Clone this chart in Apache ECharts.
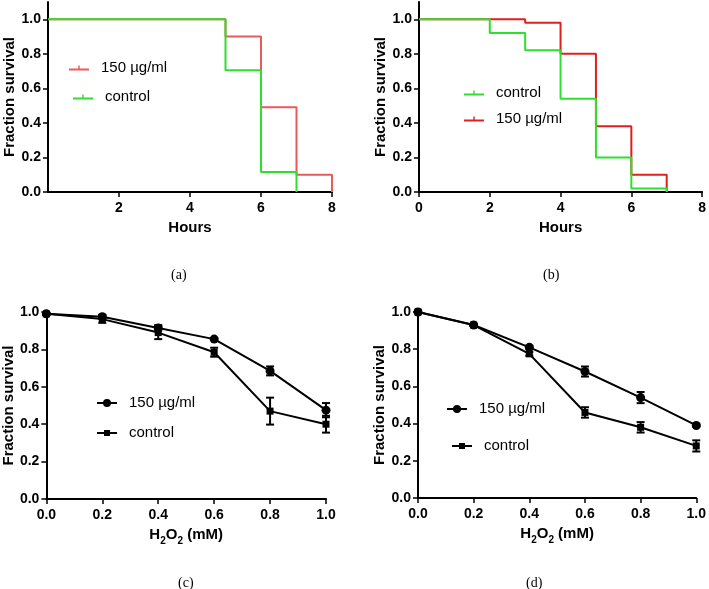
<!DOCTYPE html>
<html>
<head>
<meta charset="utf-8">
<script src="https://cdn.jsdelivr.net/npm/echarts@6/dist/echarts.min.js"></script>
<style>html,body{margin:0;padding:0;background:#fff}#c{width:709px;height:589px}</style>
</head>
<body>
<div id="c"></div>
<script>
// ---- data ----
const hoursA150 = [0, 5, 6, 7, 8];
const survA150  = [1.0, 0.90, 0.49, 0.10, 0.0];
const hoursACtl = [0, 5, 6, 7];
const survACtl  = [1.0, 0.705, 0.116, 0.0];

const hoursBCtl = [0, 2, 3, 4, 5, 6, 7];
const survBCtl  = [1.0, 0.92, 0.82, 0.54, 0.20, 0.02, 0.0];
const hoursB150 = [0, 3, 4, 5, 6, 7];
const survB150  = [1.0, 0.98, 0.80, 0.38, 0.10, 0.0];

const dose = [0, 0.2, 0.4, 0.6, 0.8, 1.0];
const c150    = [0.99, 0.975, 0.915, 0.855, 0.685, 0.475];
const c150Err = [0.005, 0.01, 0.015, 0.005, 0.024, 0.038];
const cCtl    = [0.99, 0.962, 0.89, 0.785, 0.47, 0.40];
const cCtlErr = [0.005, 0.02, 0.035, 0.024, 0.072, 0.045];

const d150    = [1.0, 0.93, 0.81, 0.68, 0.54, 0.39];
const d150Err = [0, 0.005, 0.008, 0.027, 0.03, 0.006];
const dCtl    = [1.0, 0.93, 0.775, 0.46, 0.38, 0.28];
const dCtlErr = [0, 0.005, 0.01, 0.028, 0.028, 0.03];

const yTicks = [0, 0.2, 0.4, 0.6, 0.8, 1.0];
const legendNames = {a150: '150 µg/ml', aCtl: 'control', b150: '150 µg/ml', bCtl: 'control',
                     c150: '150 µg/ml', cCtl: 'control', d150: '150 µg/ml', dCtl: 'control'};
const captions = ['(a)', '(b)', '(c)', '(d)'];

// ---- helpers ----
const zip = (xs, ys) => xs.map((x, i) => [x, ys[i]]);
const zip3 = (xs, ys, es) => xs.map((x, i) => [x, ys[i], es[i]]);
const FONT = '"Liberation Sans", Arial, sans-serif';
const RED_A = '#ea5a58', RED_B = '#e0201e', GREEN = '#2ee02e';

function errRender(params, api) {
  const x = api.value(0), y = api.value(1), e = api.value(2);
  if (!e) return null;
  const t = api.coord([x, y + e]), b = api.coord([x, y - e]);
  const hw = 4, st = {stroke: '#000', lineWidth: 2};
  return {type: 'group', children: [
    {type: 'line', shape: {x1: t[0], y1: t[1], x2: b[0], y2: b[1]}, style: st},
    {type: 'line', shape: {x1: t[0] - hw, y1: t[1], x2: t[0] + hw, y2: t[1]}, style: st},
    {type: 'line', shape: {x1: b[0] - hw, y1: b[1], x2: b[0] + hw, y2: b[1]}, style: st}
  ]};
}

function yAxis(gi, max) {
  return {
    type: 'value', gridIndex: gi, min: 0, max: max, interval: 0.2,
    name: 'Fraction survival', nameLocation: 'middle', nameGap: 30,
    nameTextStyle: {fontFamily: FONT, fontWeight: 'bold', fontSize: 15, color: '#000'},
    axisLine: {show: true, lineStyle: {color: '#000', width: 2}},
    axisTick: {show: true, length: 5, lineStyle: {color: '#000', width: 1.5}, customValues: yTicks},
    axisLabel: {fontFamily: FONT, fontWeight: 'bold', fontSize: 14, color: '#000', margin: 7,
                customValues: yTicks, formatter: v => v.toFixed(1)},
    splitLine: {show: false}
  };
}
function xAxisHours(gi, showMin) {
  return {
    type: 'value', gridIndex: gi, min: 0, max: 8, interval: 2,
    name: 'Hours', nameLocation: 'middle', nameGap: 28,
    nameTextStyle: {fontFamily: FONT, fontWeight: 'bold', fontSize: 15, color: '#000'},
    axisLine: {show: true, onZero: false, lineStyle: {color: '#000', width: 2}},
    axisTick: {show: true, length: 5, lineStyle: {color: '#000', width: 1.5}},
    axisLabel: {fontFamily: FONT, fontWeight: 'bold', fontSize: 14, color: '#000', margin: 9, showMinLabel: showMin},
    splitLine: {show: false}
  };
}
function xAxisDose(gi) {
  return {
    type: 'value', gridIndex: gi, min: 0, max: 1, interval: 0.2,
    name: '{b|H}{s|2}{b|O}{s|2}{b| (mM)}', nameLocation: 'middle', nameGap: 28,
    nameTextStyle: {fontFamily: FONT, fontWeight: 'bold', fontSize: 15, color: '#000',
      rich: {b: {fontFamily: FONT, fontWeight: 'bold', fontSize: 15, color: '#000', verticalAlign: 'top'},
             s: {fontFamily: FONT, fontWeight: 'bold', fontSize: 10, color: '#000', verticalAlign: 'top', padding: [9, 0, 0, 0]}}},
    axisLine: {show: true, onZero: false, lineStyle: {color: '#000', width: 2}},
    axisTick: {show: true, length: 5, lineStyle: {color: '#000', width: 1.5}},
    axisLabel: {fontFamily: FONT, fontWeight: 'bold', fontSize: 14, color: '#000', margin: 9,
                formatter: v => v.toFixed(1)},
    splitLine: {show: false}
  };
}
function stepSeries(id, gi, xs, ys, color, z) {
  return {id: id, name: id, type: 'line', xAxisIndex: gi, yAxisIndex: gi, step: 'end',
          data: zip(xs, ys), showSymbol: false, symbol: 'none', z: z,
          lineStyle: {color: color, width: 2}, itemStyle: {color: color}};
}
function markerSeries(id, gi, xs, ys, sym, size) {
  return {id: id, name: id, type: 'line', xAxisIndex: gi, yAxisIndex: gi, data: zip(xs, ys),
          symbol: sym, symbolSize: size, showSymbol: true, z: 3,
          lineStyle: {color: '#000', width: 2}, itemStyle: {color: '#000'}};
}
function errSeries(gi, xs, ys, es) {
  return {type: 'custom', xAxisIndex: gi, yAxisIndex: gi, data: zip3(xs, ys, es),
          encode: {x: 0, y: 1}, renderItem: errRender, z: 2, silent: true};
}
const tickIcon = 'path://M0,3H20V5H0Z M9.3,0H10.7V3H9.3Z';
const circIcon = 'path://M0,4H20V6H0Z M14,5A4,4 0 1 1 6,5A4,4 0 1 1 14,5Z';
const sqIcon = 'path://M0,4H20V6H0Z M7,2H13V8H7Z';
function leg(name, left, cy, icon, color, ih) {
  return {data: [{name: name, icon: icon, itemStyle: {color: color}}], left: left, top: cy - 8,
          orient: 'horizontal', itemWidth: 20, itemHeight: ih, itemGap: 0, padding: 0, selectedMode: false,
          formatter: n => legendNames[n],
          textStyle: {fontFamily: FONT, fontSize: 15, color: '#000', lineHeight: 16, padding: [0, 0, 0, 7]}};
}

const option = {
  animation: false,
  backgroundColor: '#fff',
  grid: [
    {left: 48, top: 2, width: 284, height: 190},
    {left: 419, top: 2, width: 285, height: 190},
    {left: 46, top: 312, width: 280, height: 187},
    {left: 418, top: 312, width: 280, height: 186}
  ],
  xAxis: [xAxisHours(0, false), xAxisHours(1, true), xAxisDose(2), xAxisDose(3)],
  yAxis: [yAxis(0, 1.1), yAxis(1, 1.1), yAxis(2, 1.0), yAxis(3, 1.0)],
  legend: [
    leg('a150', 69, 68, tickIcon, RED_A, 5),
    leg('aCtl', 73, 97, tickIcon, GREEN, 5),
    leg('bCtl', 464, 93, tickIcon, GREEN, 5),
    leg('b150', 464, 119, tickIcon, RED_B, 5),
    leg('c150', 97, 403, circIcon, '#000', 10),
    leg('cCtl', 97, 433, sqIcon, '#000', 10),
    leg('d150', 447, 409, circIcon, '#000', 10),
    leg('dCtl', 452, 446, sqIcon, '#000', 10)
  ],
  graphic: captions.map((t, i) => ({
    type: 'text', left: [171, 543, 178, 526][i], top: [268, 268, 576, 576][i],
    style: {text: t, font: '14px "Liberation Serif", "Times New Roman", serif', fill: '#000'}
  })),
  series: [
    stepSeries('a150', 0, hoursA150, survA150, RED_A, 2),
    stepSeries('aCtl', 0, hoursACtl, survACtl, GREEN, 3),
    stepSeries('b150', 1, hoursB150, survB150, RED_B, 2),
    stepSeries('bCtl', 1, hoursBCtl, survBCtl, GREEN, 3),
    errSeries(2, dose, c150, c150Err),
    errSeries(2, dose, cCtl, cCtlErr),
    markerSeries('c150', 2, dose, c150, 'circle', 9),
    markerSeries('cCtl', 2, dose, cCtl, 'rect', 7),
    errSeries(3, dose, d150, d150Err),
    errSeries(3, dose, dCtl, dCtlErr),
    markerSeries('d150', 3, dose, d150, 'circle', 9),
    markerSeries('dCtl', 3, dose, dCtl, 'rect', 7)
  ]
};
const chart = echarts.init(document.getElementById('c'), null, {renderer: 'canvas'});
chart.setOption(option);
</script>
</body>
</html>
